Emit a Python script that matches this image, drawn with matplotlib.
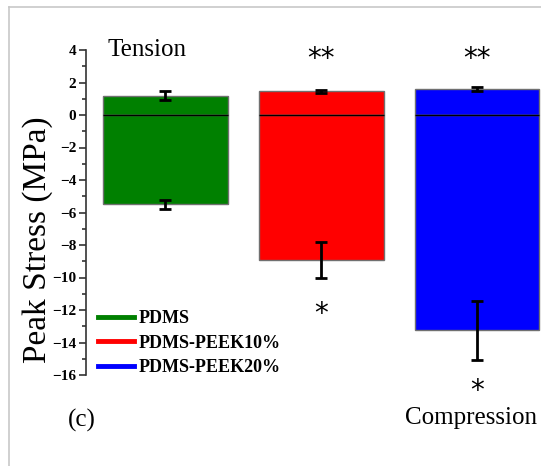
import matplotlib
matplotlib.use("Agg")
import matplotlib.pyplot as plt
from matplotlib.lines import Line2D
from matplotlib.ticker import MultipleLocator

# data
samples = ["PDMS", "PDMS-PEEK10%", "PDMS-PEEK20%"]
colors = ["#008000", "#ff0000", "#0000ff"]
tension = [1.2, 1.45, 1.6]
tension_err = [0.3, 0.1, 0.15]
compression = [-5.5, -8.9, -13.25]
compression_err = [0.3, 1.1, 1.8]
top_marks = ["", "**", "**"]
bottom_marks = ["", "*", "*"]

serif = "Liberation Serif"

fig = plt.figure(figsize=(5.41, 4.66), dpi=100)
ax = fig.add_axes([86 / 541, 1 - 375 / 466, 1 - 86 / 541, (375 - 50) / 466])

x = [1, 2, 3]
width = 0.8
ax.bar(x, tension, width, color=colors, edgecolor="#707070", linewidth=1, zorder=2)
ax.bar(x, compression, width, color=colors, edgecolor="#707070", linewidth=1, zorder=2)
ax.hlines([0] * len(x), [xi - width / 2 for xi in x], [xi + width / 2 for xi in x],
          color="black", linewidth=1, zorder=3)
ax.errorbar(x, tension, yerr=tension_err, fmt="none", ecolor="black",
            elinewidth=2, capsize=4, capthick=2, zorder=4)
ax.errorbar(x, compression, yerr=compression_err, fmt="none", ecolor="black",
            elinewidth=2, capsize=4, capthick=2, zorder=4)

for xi, t, b in zip(x, top_marks, bottom_marks):
    if t:
        ax.text(xi, 3.45, t, ha="center", va="center", fontsize=20,
                family="DejaVu Sans")
    if b:
        ax.text(xi, -12.25 if xi == 2 else -17.0, b, ha="center", va="center",
                fontsize=20, family="DejaVu Sans", clip_on=False)

ax.set_xlim(0.49, 3.41)
ax.set_ylim(-16, 4)
ax.yaxis.set_major_locator(MultipleLocator(2))
ax.yaxis.set_minor_locator(MultipleLocator(1))
for s in ["top", "right", "bottom"]:
    ax.spines[s].set_visible(False)
ax.spines["left"].set_linewidth(1.2)
ax.spines["left"].set_color("#333333")
ax.set_xticks([])
ax.tick_params(axis="y", which="major", length=5, width=1.2, pad=2,
               color="#333333", labelsize=11)
ax.tick_params(axis="y", which="minor", length=3, width=1.2, color="#333333")
for lab in ax.get_yticklabels():
    lab.set_fontfamily(serif)
    lab.set_fontweight("bold")
ax.set_ylabel("Peak Stress (MPa)", fontsize=24, family=serif)
ax.yaxis.set_label_coords(-33 / 455, 0.415)

handles = [Line2D([], [], color=c, linewidth=3.5) for c in colors]
leg = ax.legend(handles, samples, loc="center left", bbox_to_anchor=(12 / 455, 0.098),
                frameon=False, borderpad=0, borderaxespad=0, handlelength=2.0,
                handletextpad=0.25, labelspacing=0.4,
                prop={"family": serif, "weight": "bold", "size": 13})

ax.text(0.63, 4.0, "Tension", fontsize=18, family=serif, va="center")
fig.text(405 / 541, 1 - 418 / 466, "Compression", fontsize=18, family=serif,
         va="center", ha="left")
fig.text(68 / 541, 1 - 420 / 466, "(c)", fontsize=18, family=serif, va="center")

# light frame from the source page
fig.add_artist(Line2D([9 / 541, 1], [1 - 7 / 466] * 2, color="#c8c8c8", linewidth=1.2))
fig.add_artist(Line2D([9 / 541] * 2, [0, 1 - 7 / 466], color="#c8c8c8", linewidth=1.2))

fig.savefig("out.png", dpi=100)
